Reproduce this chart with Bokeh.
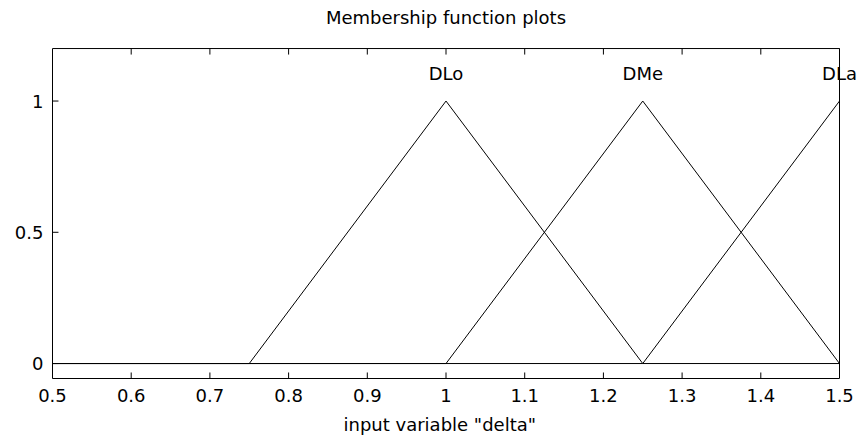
from bokeh.plotting import figure
from bokeh.models import FixedTicker, LinearAxis, Range1d, Label, Title
from bokeh.embed import file_html
from bokeh.resources import INLINE

# membership function vertices over the input range
mf_names = ["DLo", "DMe", "DLa"]
dlo_x = [0.5, 0.75, 1.0, 1.25, 1.5]
dlo_y = [0, 0, 1, 0, 0]
dme_x = [0.5, 1.0, 1.25, 1.5]
dme_y = [0, 0, 1, 0]
dla_x = [0.5, 1.25, 1.5]
dla_y = [0, 0, 1]
peak_x = [1.0, 1.25, 1.5]
label_y = [1.105, 1.105, 1.105]

# axes box limits
x_min, x_max = 0.5, 1.5
y_min, y_max = -0.057, 1.2

x_ticks = [0.5, 0.6, 0.7, 0.8, 0.9, 1.0, 1.1, 1.2, 1.3, 1.4, 1.5]
x_tick_labels = ["0.5", "0.6", "0.7", "0.8", "0.9", "1", "1.1", "1.2", "1.3", "1.4", "1.5"]
y_ticks = [0, 0.5, 1]
y_tick_labels = ["0", "0.5", "1"]

FONT = "DejaVu Sans"
FS = "18px"

# layout constants: the frame extends past the box (up and right) so that
# the title and the last label are not clipped
VIEW_X_END = 1.5254
VIEW_Y_END = 1.383
TITLE_Y = 1.318
TICK_DX = 0.0076   # 6 px
TICK_DY = 0.0229   # 6 px

p = figure(width=859, height=445, output_backend="svg", toolbar_location=None,
           x_range=Range1d(x_min, VIEW_X_END), y_range=Range1d(y_min, VIEW_Y_END),
           x_axis_location=None, y_axis_location=None)
p.min_border_left = 52
p.min_border_right = 0
p.min_border_top = 0
p.min_border_bottom = 67
p.background_fill_color = "white"
p.border_fill_color = "white"
p.outline_line_color = None
p.xgrid.visible = False
p.ygrid.visible = False

def style_axis(ax):
    ax.axis_line_color = "black"
    ax.major_tick_in = 0
    ax.major_tick_out = 0
    ax.major_tick_line_color = None
    ax.minor_tick_line_color = None
    ax.major_label_text_font = FONT
    ax.major_label_text_font_size = FS
    ax.major_label_text_color = "black"

xb = LinearAxis(ticker=FixedTicker(ticks=x_ticks), bounds=(x_min, x_max),
                major_label_overrides={t: l for t, l in zip(x_ticks, x_tick_labels)})
style_axis(xb)
xb.major_label_standoff = 10
p.add_layout(xb, "below")

yl = LinearAxis(ticker=FixedTicker(ticks=y_ticks), bounds=(y_min, y_max),
                major_label_overrides={t: l for t, l in zip(y_ticks, y_tick_labels)})
style_axis(yl)
yl.major_label_standoff = 9
p.add_layout(yl, "left")

x_title = Title(text='input variable "delta"', align="left", offset=291,
                text_font=FONT, text_font_size=FS, text_font_style="normal",
                text_color="black", standoff=14)
p.add_layout(x_title, "below")

# top and right edges of the axes box
p.line([x_min, x_max], [y_max, y_max], line_color="black", line_width=1)
p.line([x_max, x_max], [y_min, y_max], line_color="black", line_width=1)

# inward tick marks
n = len(x_ticks)
p.segment(x0=x_ticks, y0=[y_min] * n, x1=x_ticks, y1=[y_min + TICK_DY] * n,
          line_color="black", line_width=1)
p.segment(x0=x_ticks, y0=[y_max] * n, x1=x_ticks, y1=[y_max - TICK_DY] * n,
          line_color="black", line_width=1)
m = len(y_ticks)
p.segment(x0=[x_min] * m, y0=y_ticks, x1=[x_min + TICK_DX] * m, y1=y_ticks,
          line_color="black", line_width=1)

for xs, ys in [(dlo_x, dlo_y), (dme_x, dme_y), (dla_x, dla_y)]:
    p.line(xs, ys, line_color="black", line_width=1)

for xv, yv, name in zip(peak_x, label_y, mf_names):
    p.add_layout(Label(x=xv, y=yv, text=name, text_align="center",
                       text_baseline="middle", text_font=FONT, text_font_size=FS,
                       text_color="black"))

p.add_layout(Label(x=(x_min + x_max) / 2, y=TITLE_Y, text="Membership function plots",
                   text_align="center", text_baseline="middle", text_font=FONT,
                   text_font_size=FS, text_color="black"))

open("out.html", "w").write(file_html(p, INLINE))
